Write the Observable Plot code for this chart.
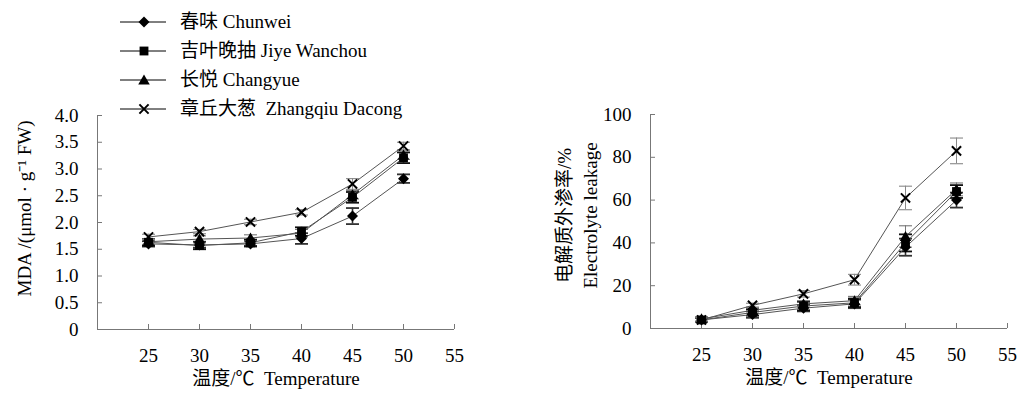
<!DOCTYPE html>
<html><head><meta charset="utf-8">
<script src="https://cdn.jsdelivr.net/npm/d3@7"></script>
<script src="https://cdn.jsdelivr.net/npm/@observablehq/plot@0.6"></script>
<style>
body{margin:0;background:#fff;}
#wrap{position:relative;width:1018px;height:396px;overflow:hidden;font-family:"Liberation Serif","Noto Sans CJK SC",serif;}
#wrap svg{position:absolute;top:0;}
</style></head><body><div id="wrap"></div>
<script>
// ---------- data ----------
const temps = [25, 30, 35, 40, 45, 50];
const seriesNames = ["春味 Chunwei", "吉叶晚抽 Jiye Wanchou", "长悦 Changyue", "章丘大葱\u00a0\u00a0Zhangqiu Dacong"];

const mdaChunwei   = [1.60, 1.58, 1.60, 1.70, 2.12, 2.82];
const mdaJiye      = [1.63, 1.57, 1.62, 1.83, 2.47, 3.21];
const mdaChangyue  = [1.64, 1.69, 1.71, 1.80, 2.52, 3.26];
const mdaZhangqiu  = [1.73, 1.83, 2.01, 2.19, 2.72, 3.43];
const mdaErrChunwei  = [0.05, 0.05, 0.05, 0.10, 0.15, 0.08];
const mdaErrJiye     = [0.06, 0.07, 0.06, 0.08, 0.10, 0.10];
const mdaErrChangyue = [0.05, 0.06, 0.06, 0.07, 0.08, 0.08];
const mdaErrZhangqiu = [0.05, 0.04, 0.05, 0.05, 0.10, 0.07];

const elChunwei   = [4.0, 6.5, 9.5, 11.5, 38, 60];
const elJiye      = [4.0, 7.5, 10.5, 12.0, 40, 64];
const elChangyue  = [4.5, 8.5, 11.5, 13.0, 43, 65];
const elZhangqiu  = [4.0, 10.8, 16.2, 22.8, 61, 83];
const elErrChunwei  = [1.0, 1.5, 1.5, 2.0, 4.0, 3.5];
const elErrJiye     = [1.0, 1.5, 2.0, 2.0, 4.0, 3.0];
const elErrChangyue = [1.0, 1.5, 1.5, 2.0, 5.0, 3.0];
const elErrZhangqiu = [1.0, 1.0, 1.5, 2.5, 5.5, 6.0];

const xTicks = [25, 30, 35, 40, 45, 50, 55];
const mdaTicks = [0, 0.5, 1.0, 1.5, 2.0, 2.5, 3.0, 3.5, 4.0];
const elTicks = [0, 20, 40, 60, 80, 100];

const mdaLabel = "MDA /(μmol · g\u207B\u00B9 FW)";
const elLabel = "电解质外渗率/%\nElectrolyte leakage";
const xLabel = "温度/℃\u00a0\u00a0Temperature";

// ---------- build tables ----------
function build(vals, errs) {
  return seriesNames.flatMap((s, i) => temps.map((t, j) => ({series: s, idx: i, t, v: vals[i][j], e: errs[i][j]})));
}
const mdaRows = build([mdaChunwei, mdaJiye, mdaChangyue, mdaZhangqiu], [mdaErrChunwei, mdaErrJiye, mdaErrChangyue, mdaErrZhangqiu]);
const elRows = build([elChunwei, elJiye, elChangyue, elZhangqiu], [elErrChunwei, elErrJiye, elErrChangyue, elErrZhangqiu]);

// ---------- symbols ----------
const mk = f => ({draw(c, size) { f(c, Math.sqrt(size / Math.PI)); }});
const diamondSym = mk((c, s) => { c.moveTo(0, -s); c.lineTo(s, 0); c.lineTo(0, s); c.lineTo(-s, 0); c.closePath(); });
const squareSym = mk((c, s) => { const h = s * 0.85; c.moveTo(-h, -h); c.lineTo(h, -h); c.lineTo(h, h); c.lineTo(-h, h); c.closePath(); });
const triSym = mk((c, s) => { c.moveTo(0, -s); c.lineTo(s * 1.05, s * 0.8); c.lineTo(-s * 1.05, s * 0.8); c.closePath(); });
const timesSym = mk((c, s) => { c.moveTo(-s, -s); c.lineTo(s, s); c.moveTo(s, -s); c.lineTo(-s, s); });
const capSym = mk((c, s) => { c.moveTo(-s, 0); c.lineTo(s, 0); });
const symStyles = [
  {symbol: diamondSym, r: 5.5, fill: "#000", stroke: "none"},
  {symbol: squareSym, r: 5.2, fill: "#000", stroke: "none"},
  {symbol: triSym, r: 5.5, fill: "#000", stroke: "none"},
  {symbol: timesSym, r: 4.6, fill: "none", stroke: "#000", strokeWidth: 2}
];
const errColors = ["#333", "#111", "#777", "#888"];

const FONT = '"Liberation Serif","Noto Sans CJK SC",serif';

function chart(rows, opts) {
  const marks = [
    Plot.ruleY([opts.yDomain[0]], {stroke: "#777"}),
    Plot.ruleX([opts.xDomain[0]], {stroke: "#777"}),
    Plot.axisX(xTicks, {tickSize: -5, tickPadding: 24, stroke: "#777", fill: "#000", label: null}),
    Plot.axisY(opts.yTicks, {tickSize: -5, tickPadding: 24, stroke: "#777", fill: "#000", label: null, tickFormat: opts.fmt}),
  ];
  seriesNames.forEach((s, i) => {
    const d = rows.filter(r => r.idx === i);
    const col = errColors[i];
    marks.push(
      Plot.ruleX(d, {x: "t", y1: r => r.v - r.e, y2: r => r.v + r.e, stroke: col, strokeWidth: i < 2 ? 1.6 : 1}),
      Plot.dot(d, {x: "t", y: r => r.v - r.e, symbol: capSym, r: 6.5, stroke: col, strokeWidth: i < 2 ? 1.8 : 1.1}),
      Plot.dot(d, {x: "t", y: r => r.v + r.e, symbol: capSym, r: 6.5, stroke: col, strokeWidth: i < 2 ? 1.8 : 1.1})
    );
  });
  seriesNames.forEach((s, i) => {
    const d = rows.filter(r => r.idx === i);
    marks.push(Plot.line(d, {x: "t", y: "v", stroke: "#555", strokeWidth: 1}));
  });
  seriesNames.forEach((s, i) => {
    const d = rows.filter(r => r.idx === i);
    marks.push(Plot.dot(d, {x: "t", y: "v", ...symStyles[i]}));
  });
  marks.push(
    Plot.text([opts.yLabel], {text: d => d, frameAnchor: "left", rotate: -90, textAnchor: "middle", lineAnchor: "top", lineHeight: 1.37, dx: opts.yLabelDx, dy: opts.yLabelDy, fill: "#000"}),
    Plot.text([xLabel], {text: d => d, frameAnchor: "bottom", lineAnchor: "middle", dy: 49, fill: "#000"})
  );
  return Plot.plot({
    width: 509, height: 396,
    marginLeft: opts.ml, marginRight: opts.mr, marginTop: opts.mt, marginBottom: opts.mb,
    x: {domain: opts.xDomain},
    y: {domain: opts.yDomain},
    style: {fontFamily: FONT, fontSize: "19px", color: "#000", background: "transparent", overflow: "visible"},
    marks
  });
}

const wrap = document.getElementById("wrap");
const left = chart(mdaRows, {xDomain: [20, 55], yDomain: [0, 4], yTicks: mdaTicks, fmt: d => d === 0 ? "0" : d.toFixed(1),
  ml: 97, mr: 55, mt: 115, mb: 67, yLabel: mdaLabel, yLabelDx: -85, yLabelDy: -14});
left.style.left = "0px";
wrap.appendChild(left);
const right = chart(elRows, {xDomain: [20, 55], yDomain: [0, 100], yTicks: elTicks, fmt: d => String(d),
  ml: 141, mr: 11, mt: 114, mb: 68, yLabel: elLabel, yLabelDx: -98, yLabelDy: -6});
right.style.left = "509px";
wrap.appendChild(right);

// ---------- legend ----------
const lg = d3.select(wrap).append("svg").attr("width", 460).attr("height", 125).style("left", "0px")
  .style("font-family", FONT).style("font-size", "19px");
seriesNames.forEach((s, i) => {
  const y = 22 + i * 29;
  const g = lg.append("g").attr("transform", `translate(0,${y})`);
  g.append("line").attr("x1", 120).attr("x2", 166).attr("y1", 0).attr("y2", 0).attr("stroke", "#000").attr("stroke-width", 1);
  const st = symStyles[i];
  g.append("path").attr("transform", "translate(144,0)")
    .attr("d", d3.symbol(st.symbol, st.r * st.r * Math.PI)())
    .attr("fill", st.fill).attr("stroke", st.stroke).attr("stroke-width", st.strokeWidth || 0);
  g.append("text").attr("x", 180).attr("y", 0).attr("dy", "0.33em").attr("fill", "#000").text(s);
});
</script></body></html>
